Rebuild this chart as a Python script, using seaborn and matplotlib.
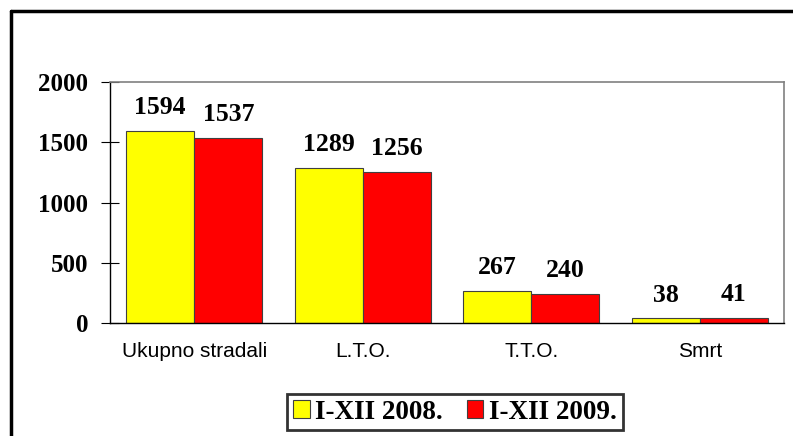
import matplotlib
matplotlib.use("Agg")
import matplotlib.pyplot as plt
import seaborn as sns
import pandas as pd
from matplotlib.lines import Line2D

categories = ["Ukupno stradali", "L.T.O.", "T.T.O.", "Smrt"]
series_names = ["I-XII 2008.", "I-XII 2009."]
values_2008 = [1594, 1289, 267, 38]
values_2009 = [1537, 1256, 240, 41]
y_ticks = [0, 500, 1000, 1500, 2000]

df = pd.DataFrame({
    "cat": categories * 2,
    "series": [series_names[0]] * 4 + [series_names[1]] * 4,
    "val": values_2008 + values_2009,
})

sns.set_theme(style="white")
plt.rcParams["font.family"] = ["Liberation Serif", "DejaVu Serif"]
plt.rcParams["text.color"] = "black"
plt.rcParams["xtick.color"] = "black"
plt.rcParams["ytick.color"] = "black"
plt.rcParams["xtick.labelcolor"] = "black"
plt.rcParams["ytick.labelcolor"] = "black"

fig = plt.figure(figsize=(7.93, 4.36), dpi=100)
ax = fig.add_axes([110/793, 1 - 323/436, (784 - 110)/793, (323 - 82)/436])

sns.barplot(data=df, x="cat", y="val", hue="series", order=categories,
            hue_order=series_names, palette=["#FFFF00", "#FF0000"], saturation=1,
            width=0.81, gap=0, edgecolor="#404040", linewidth=0.8,
            ax=ax, legend=False, errorbar=None)

# value labels
for cont in ax.containers:
    ax.bar_label(cont, fmt="%d", padding=8.5, fontsize=18.5, fontweight="bold",
                 family="Liberation Serif", color="black")

ax.set_ylim(0, 2000)
ax.set_xlim(-0.5, 3.5)
ax.set_yticks(y_ticks)
ax.set_yticklabels([str(v) for v in y_ticks], fontsize=18, fontweight="bold",
                   family="Liberation Serif")
ax.set_xticks(range(len(categories)))
ax.set_xticklabels(categories, fontsize=15, family="Liberation Sans")
ax.tick_params(axis="x", which="major", length=0, pad=14)
ax.set_xticks([-0.5, 0.5, 1.5, 2.5, 3.5], minor=True)
ax.tick_params(axis="x", which="minor", direction="inout", length=9, width=0.8, color="black")
ax.tick_params(axis="y", direction="inout", length=13, width=0.8, color="black", left=True, pad=9)
ax.set_xlabel("")
ax.set_ylabel("")

for s in ["left", "bottom"]:
    ax.spines[s].set_color("black")
    ax.spines[s].set_linewidth(1.0)
for s in ["top", "right"]:
    ax.spines[s].set_color("#808080")
    ax.spines[s].set_linewidth(1.2)

# legend
handles = [plt.Rectangle((0, 0), 1, 1, facecolor=c, edgecolor="#404040", linewidth=0.8)
           for c in ["#FFFF00", "#FF0000"]]
leg = fig.legend(handles, series_names, loc="center", bbox_to_anchor=(455/793, 24/436),
                 ncol=2, frameon=True, fancybox=False, handlelength=0.6, handleheight=0.6,
                 handletextpad=0.2, columnspacing=0.9, borderpad=0.22,
                 prop={"family": "Liberation Serif", "weight": "bold", "size": 19.5})
leg.get_frame().set_edgecolor("black")
leg.get_frame().set_linewidth(2.0)

# outer frame
fig.add_artist(Line2D([11/793, 11/793], [0, 1 - 11/436], transform=fig.transFigure,
                      color="black", linewidth=2.5))
fig.add_artist(Line2D([11/793, 1], [1 - 11/436, 1 - 11/436], transform=fig.transFigure,
                      color="black", linewidth=2.5))

fig.savefig("out.png", dpi=100)
